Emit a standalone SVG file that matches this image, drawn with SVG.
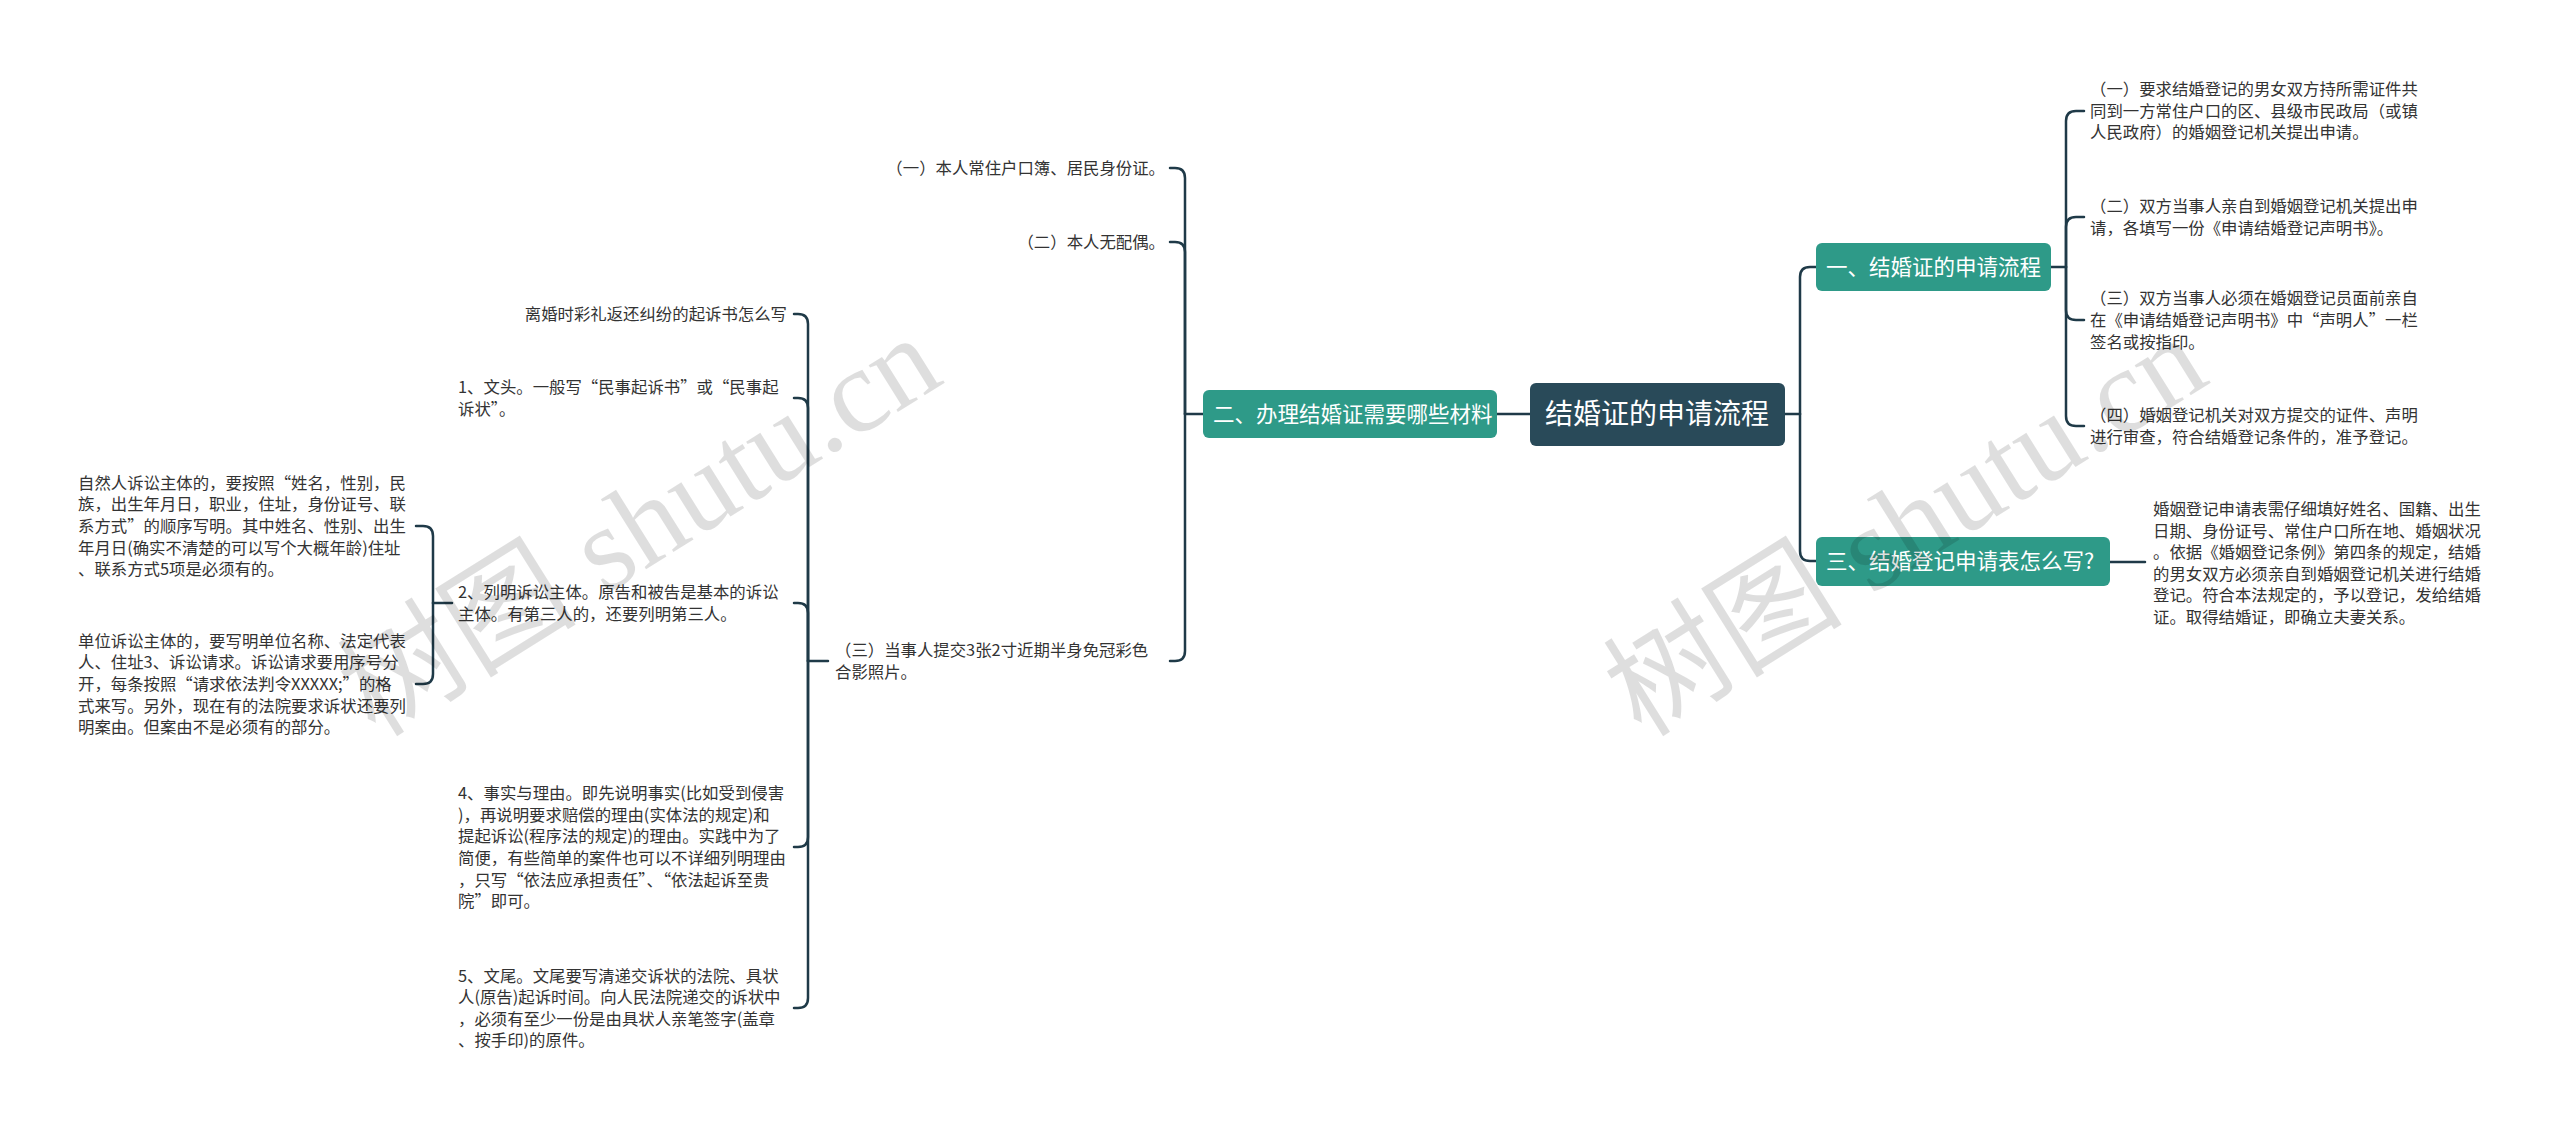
<svg xmlns="http://www.w3.org/2000/svg" width="2560" height="1130" viewBox="0 0 2560 1130">
<style>
.t{font-family:"Noto Sans CJK SC","Noto Sans",sans-serif;font-size:16.4px;fill:#333333}
.e{text-anchor:end}
.b{font-family:"Noto Sans CJK SC","Noto Sans",sans-serif;font-size:21.5px;fill:#ffffff}
.r{font-family:"Noto Sans CJK SC","Noto Sans",sans-serif;font-size:28px;fill:#ffffff}
.c{fill:none;stroke:#1f3a48;stroke-width:2.5;stroke-linecap:round}
.w{font-family:"Liberation Serif","Noto Sans CJK SC",serif;font-size:120px;fill:#000000;fill-opacity:0.13;text-anchor:middle}
</style>
<rect width="2560" height="1130" fill="#ffffff"/>
<g id="connectors">
<path class="c" d="M1785,414 H1800"/>
<path class="c" d="M1800,414 V277 Q1800,267 1810,267 H1816"/>
<path class="c" d="M1800,414 V551 Q1800,561 1810,561 H1816"/>
<path class="c" d="M2051,267 H2066"/>
<path class="c" d="M2066,267 V121 Q2066,111 2076,111 H2084"/>
<path class="c" d="M2066,267 V227 Q2066,217 2076,217 H2084"/>
<path class="c" d="M2066,267 V310 Q2066,320 2076,320 H2084"/>
<path class="c" d="M2066,267 V416 Q2066,426 2076,426 H2084"/>
<path class="c" d="M2110,562 H2145"/>
<path class="c" d="M1530,414 H1497"/>
<path class="c" d="M1203,414 H1185"/>
<path class="c" d="M1185,414 V178 Q1185,168 1175,168 H1170"/>
<path class="c" d="M1185,414 V252 Q1185,242 1175,242 H1170"/>
<path class="c" d="M1185,414 V651 Q1185,661 1175,661 H1170"/>
<path class="c" d="M828,661 H808"/>
<path class="c" d="M808,661 V324 Q808,314 798,314 H794"/>
<path class="c" d="M808,661 V408 Q808,398 798,398 H794"/>
<path class="c" d="M808,661 V613 Q808,603 798,603 H794"/>
<path class="c" d="M808,661 V837 Q808,847 798,847 H794"/>
<path class="c" d="M808,661 V998 Q808,1008 798,1008 H794"/>
<path class="c" d="M452,603 H433"/>
<path class="c" d="M433,603 V536 Q433,526 423,526 H416"/>
<path class="c" d="M433,603 V674 Q433,684 423,684 H416"/>
</g>
<g id="root">
<rect x="1530" y="383" width="255" height="63" rx="6" fill="#294a59"/>
<text class="r" x="1657" y="424" text-anchor="middle">结婚证的申请流程</text>
</g>
<g id="branch1">
<rect x="1816" y="243" width="235" height="48" rx="6" fill="#2e9a88"/>
<text class="b" x="1826" y="275">一、结婚证的申请流程</text>
</g>
<g id="branch3">
<rect x="1816" y="537" width="294" height="49" rx="6" fill="#2e9a88"/>
<text class="b" x="1826" y="569">三、结婚登记申请表怎么写?</text>
</g>
<g id="branch2">
<rect x="1203" y="390" width="294" height="48" rx="6" fill="#2e9a88"/>
<text class="b" x="1213" y="422">二、办理结婚证需要哪些材料</text>
</g>
<g id="r1">
<text class="t" x="2090" y="95">（一）要求结婚登记的男女双方持所需证件共</text>
<text class="t" x="2090" y="117">同到一方常住户口的区、县级市民政局（或镇</text>
<text class="t" x="2090" y="138">人民政府）的婚姻登记机关提出申请。</text>
</g>
<g id="r2">
<text class="t" x="2090" y="212">（二）双方当事人亲自到婚姻登记机关提出申</text>
<text class="t" x="2090" y="234">请，各填写一份《申请结婚登记声明书》。</text>
</g>
<g id="r3">
<text class="t" x="2090" y="304">（三）双方当事人必须在婚姻登记员面前亲自</text>
<text class="t" x="2090" y="326">在《申请结婚登记声明书》中“声明人”一栏</text>
<text class="t" x="2090" y="348">签名或按指印。</text>
</g>
<g id="r4">
<text class="t" x="2090" y="421">（四）婚姻登记机关对双方提交的证件、声明</text>
<text class="t" x="2090" y="443">进行审查，符合结婚登记条件的，准予登记。</text>
</g>
<g id="r5">
<text class="t" x="2153" y="515">婚姻登记申请表需仔细填好姓名、国籍、出生</text>
<text class="t" x="2153" y="537">日期、身份证号、常住户口所在地、婚姻状况</text>
<text class="t" x="2153" y="558">。依据《婚姻登记条例》第四条的规定，结婚</text>
<text class="t" x="2153" y="580">的男女双方必须亲自到婚姻登记机关进行结婚</text>
<text class="t" x="2153" y="601">登记。符合本法规定的，予以登记，发给结婚</text>
<text class="t" x="2153" y="623">证。取得结婚证，即确立夫妻关系。</text>
</g>
<g id="m1">
<text class="t e" x="1165" y="174">（一）本人常住户口簿、居民身份证。</text>
</g>
<g id="m2">
<text class="t e" x="1165" y="248">（二）本人无配偶。</text>
</g>
<g id="m3">
<text class="t" x="835" y="656">（三）当事人提交3张2寸近期半身免冠彩色</text>
<text class="t" x="835" y="678">合影照片。</text>
</g>
<g id="s0">
<text class="t e" x="787" y="320">离婚时彩礼返还纠纷的起诉书怎么写</text>
</g>
<g id="s1">
<text class="t" x="458" y="393">1、文头。一般写“民事起诉书”或“民事起</text>
<text class="t" x="458" y="415">诉状”。</text>
</g>
<g id="s2">
<text class="t" x="458" y="598">2、列明诉讼主体。原告和被告是基本的诉讼</text>
<text class="t" x="458" y="620">主体。有第三人的，还要列明第三人。</text>
</g>
<g id="s4">
<text class="t" x="458" y="799">4、事实与理由。即先说明事实(比如受到侵害</text>
<text class="t" x="458" y="821">)，再说明要求赔偿的理由(实体法的规定)和</text>
<text class="t" x="458" y="842">提起诉讼(程序法的规定)的理由。实践中为了</text>
<text class="t" x="458" y="864">简便，有些简单的案件也可以不详细列明理由</text>
<text class="t" x="458" y="886">，只写“依法应承担责任”、“依法起诉至贵</text>
<text class="t" x="458" y="907">院”即可。</text>
</g>
<g id="s5">
<text class="t" x="458" y="982">5、文尾。文尾要写清递交诉状的法院、具状</text>
<text class="t" x="458" y="1003">人(原告)起诉时间。向人民法院递交的诉状中</text>
<text class="t" x="458" y="1025">，必须有至少一份是由具状人亲笔签字(盖章</text>
<text class="t" x="458" y="1046">、按手印)的原件。</text>
</g>
<g id="n1">
<text class="t" x="78" y="489">自然人诉讼主体的，要按照“姓名，性别，民</text>
<text class="t" x="78" y="510">族，出生年月日，职业，住址，身份证号、联</text>
<text class="t" x="78" y="532">系方式”的顺序写明。其中姓名、性别、出生</text>
<text class="t" x="78" y="554">年月日(确实不清楚的可以写个大概年龄)住址</text>
<text class="t" x="78" y="575">、联系方式5项是必须有的。</text>
</g>
<g id="n2">
<text class="t" x="78" y="647">单位诉讼主体的，要写明单位名称、法定代表</text>
<text class="t" x="78" y="668">人、住址3、诉讼请求。诉讼请求要用序号分</text>
<text class="t" x="78" y="690">开，每条按照“请求依法判令XXXXX;”的格</text>
<text class="t" x="78" y="712">式来写。另外，现在有的法院要求诉状还要列</text>
<text class="t" x="78" y="733">明案由。但案由不是必须有的部分。</text>
</g>
<g id="watermark">
<text class="w" transform="translate(661,560) rotate(-32)">树图 shutu.cn</text>
<text class="w" transform="translate(1927,560) rotate(-32)">树图 shutu.cn</text>
</g>
</svg>
